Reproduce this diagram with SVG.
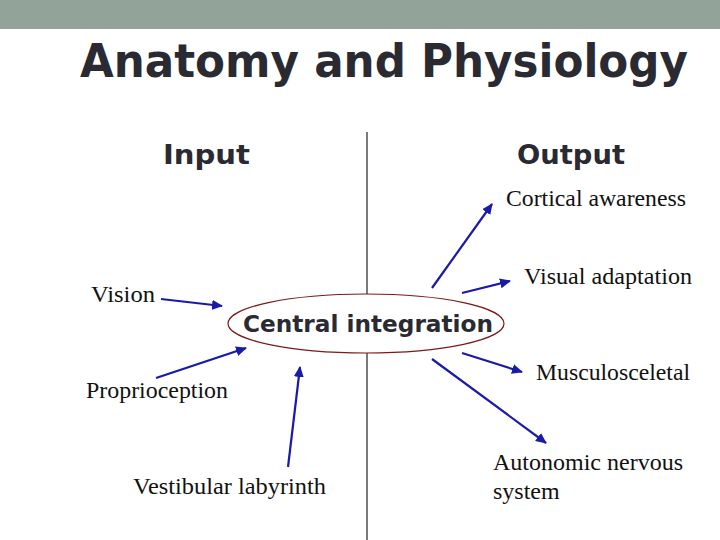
<svg xmlns="http://www.w3.org/2000/svg" width="720" height="540" viewBox="0 0 720 540">
<style>
.hd{font-family:"DejaVu Sans",Verdana,sans-serif;font-weight:bold;fill:#2a2a33}
.lb{font-family:"Liberation Serif","Times New Roman",serif;font-size:24px;fill:#111}
.ar{stroke:#1a1aa8;stroke-width:2.2;fill:none;marker-end:url(#ah)}
</style>
<defs>
<marker id="ah" markerUnits="userSpaceOnUse" markerWidth="12" markerHeight="10" refX="10" refY="5" orient="auto">
<path d="M0,0 L11,5 L0,10 Z" fill="#1a1aa8"/>
</marker>
</defs>
<rect x="0" y="0" width="720" height="29" fill="#92a399"/>
<text class="hd" x="80" y="77" font-size="46" textLength="608" lengthAdjust="spacingAndGlyphs">Anatomy and Physiology</text>
<text class="hd" x="163" y="164" font-size="26" textLength="87" lengthAdjust="spacingAndGlyphs">Input</text>
<text class="hd" x="517" y="164" font-size="26" textLength="108" lengthAdjust="spacingAndGlyphs">Output</text>
<line x1="367" y1="132" x2="367" y2="540" stroke="#222" stroke-width="1.2"/>
<g id="central">
<ellipse cx="366" cy="323.5" rx="138" ry="29.5" fill="#fff" stroke="#7a1a1a" stroke-width="1.2"/>
<text class="hd" x="243" y="332" font-size="23" textLength="250" lengthAdjust="spacingAndGlyphs">Central integration</text>
</g>
<g id="vision"><text class="lb" x="91" y="302" textLength="64" lengthAdjust="spacingAndGlyphs">Vision</text></g>
<g id="proprioception"><text class="lb" x="86" y="398" textLength="142" lengthAdjust="spacingAndGlyphs">Proprioception</text></g>
<g id="vestibular"><text class="lb" x="133" y="494" textLength="193" lengthAdjust="spacingAndGlyphs">Vestibular labyrinth</text></g>
<g id="cortical"><text class="lb" x="506" y="206" textLength="180" lengthAdjust="spacingAndGlyphs">Cortical awareness</text></g>
<g id="visual"><text class="lb" x="524" y="284" textLength="168" lengthAdjust="spacingAndGlyphs">Visual adaptation</text></g>
<g id="musculo"><text class="lb" x="536" y="380" textLength="154" lengthAdjust="spacingAndGlyphs">Musculosceletal</text></g>
<g id="autonomic"><text class="lb" x="493" y="470" textLength="190" lengthAdjust="spacingAndGlyphs">Autonomic nervous</text><text class="lb" x="493" y="499">system</text></g>
<g id="connectors">
<line class="ar" x1="161" y1="299" x2="222" y2="306"/>
<line class="ar" x1="156" y1="378" x2="246" y2="348"/>
<line class="ar" x1="288" y1="467" x2="300" y2="367"/>
<line class="ar" x1="432" y1="288" x2="492" y2="204"/>
<line class="ar" x1="462" y1="293" x2="510" y2="281"/>
<line class="ar" x1="462" y1="353" x2="522" y2="372"/>
<line class="ar" x1="432" y1="359" x2="546" y2="443"/>
</g>
</svg>
